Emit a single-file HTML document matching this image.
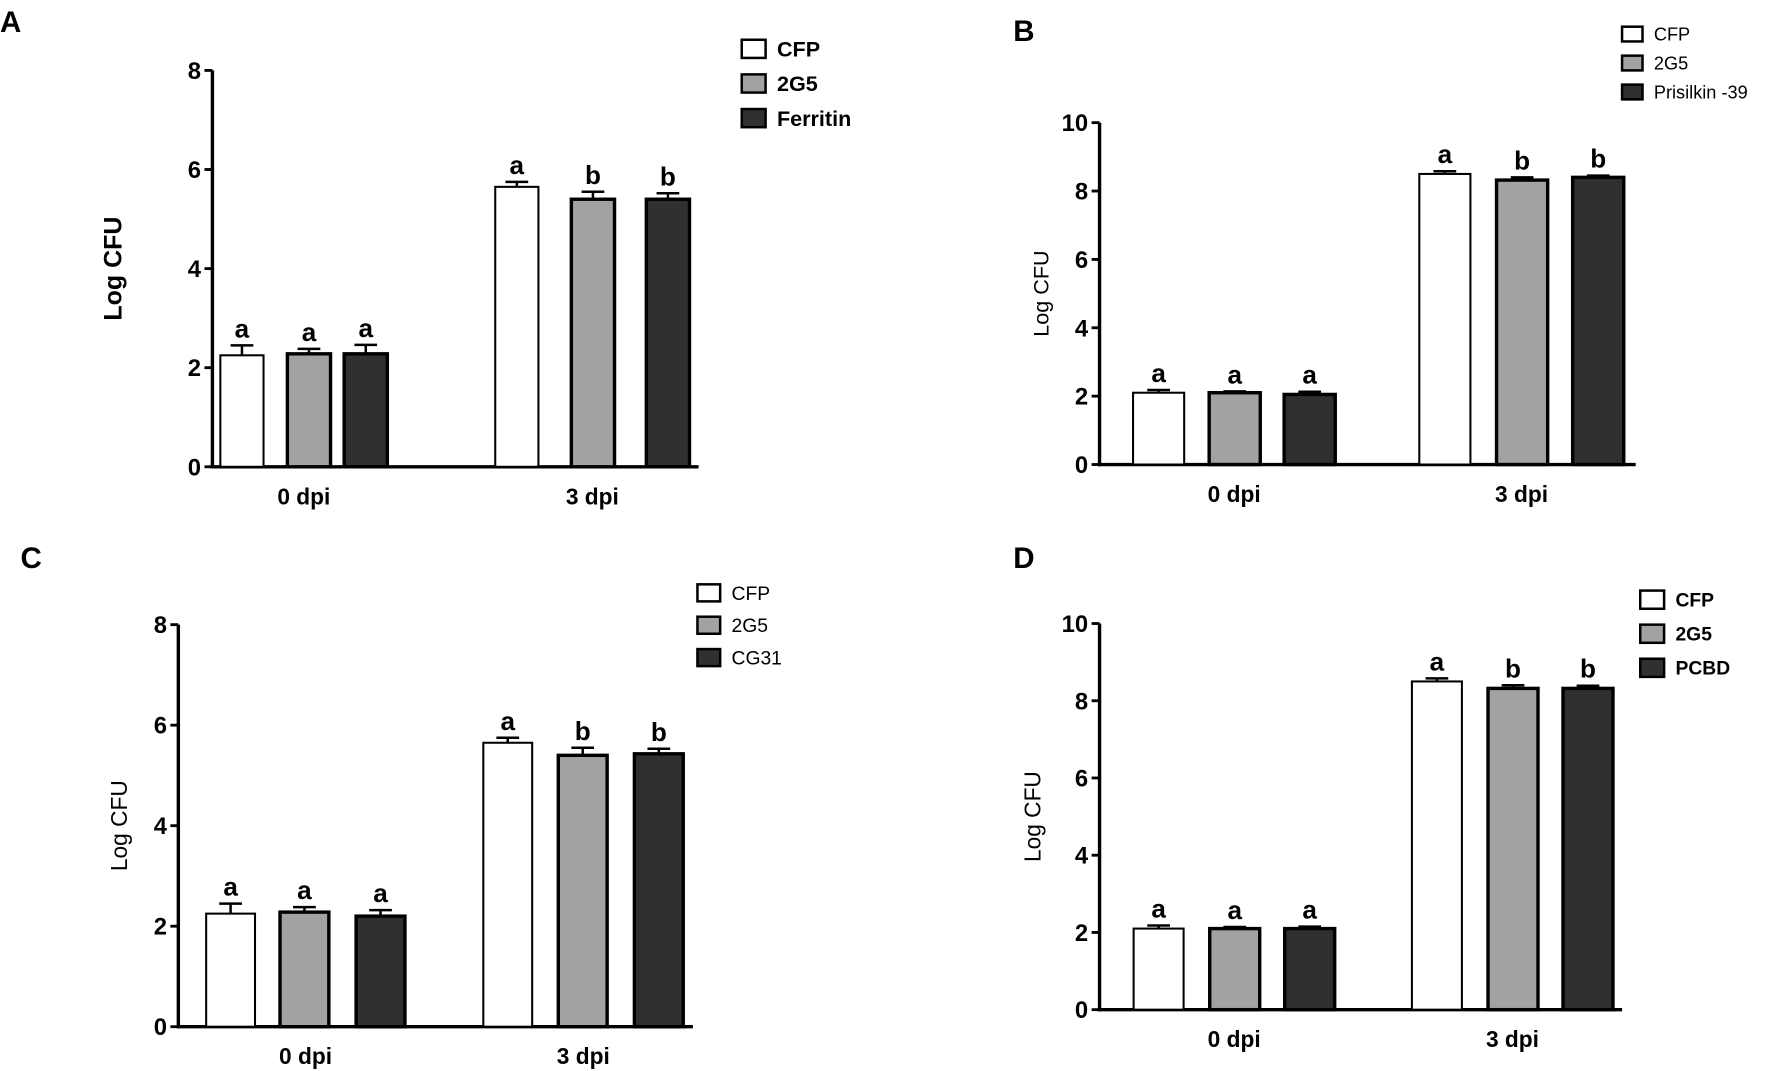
<!DOCTYPE html>
<html><head><meta charset="utf-8"><style>
html,body{margin:0;padding:0;background:#fff;}
svg{display:block;font-family:"Liberation Sans",Arial,sans-serif;}
</style></head><body>
<svg id="fig" width="1772" height="1071" viewBox="0 0 1560 943" preserveAspectRatio="none"></svg>
<script>
const groups = ["0 dpi","3 dpi"];
const seriesNames = {A:["CFP","2G5","Ferritin"],B:["CFP","2G5","Prisilkin -39"],C:["CFP","2G5","CG31"],D:["CFP","2G5","PCBD"]};
const valsA = [[2.25,2.28,2.28],[5.65,5.4,5.4]];
const errA  = [[0.2,0.1,0.18],[0.1,0.15,0.12]];
const letA  = [["a","a","a"],["a","b","b"]];
const valsB = [[2.1,2.1,2.05],[8.5,8.32,8.4]];
const errB  = [[0.08,0.04,0.08],[0.08,0.08,0.05]];
const letB  = [["a","a","a"],["a","b","b"]];
const valsC = [[2.25,2.28,2.2],[5.65,5.4,5.43]];
const errC  = [[0.2,0.1,0.12],[0.1,0.15,0.1]];
const letC  = [["a","a","a"],["a","b","b"]];
const valsD = [[2.1,2.1,2.1],[8.5,8.32,8.32]];
const errD  = [[0.08,0.04,0.05],[0.08,0.08,0.07]];
const letD  = [["a","a","a"],["a","b","b"]];
const ticksA = [0,2,4,6,8], ticksB=[0,2,4,6,8,10], ticksC=[0,2,4,6,8], ticksD=[0,2,4,6,8,10];
const fills = ["#ffffff","#a2a2a5","#303030"];

const svg = document.getElementById('fig');
const NS = "http://www.w3.org/2000/svg";
function mk(tag, at, parent){const e=document.createElementNS(NS,tag);for(const k in at)e.setAttribute(k,at[k]);(parent||svg).appendChild(e);return e;}

function panel(cfg){
  const g = mk('g',{});
  
  
  const ymax = cfg.ticks[cfg.ticks.length-1];
  const y = v => cfg.y0 - (cfg.y0-cfg.yTop)*v/ymax;
  const pl = mk('text',{x:cfg.lx,y:cfg.ly,'font-size':26,'font-weight':'bold'},g); pl.textContent=cfg.id;
  
  
  const ya = mk('line',{x1:cfg.ax,y1:cfg.yTop,x2:cfg.ax,y2:cfg.y0+1.5,stroke:'#000','stroke-width':3},g);
  
  
  const xa = mk('line',{x1:cfg.ax-1.5,y1:cfg.y0,x2:cfg.xEnd,y2:cfg.y0,stroke:'#000','stroke-width':3},g);
  
  
  cfg.ticks.forEach(t=>{
    mk('line',{x1:cfg.ax-7,y1:y(t),x2:cfg.ax,y2:y(t),stroke:'#000','stroke-width':2.5},g);
    const tl = mk('text',{x:cfg.ax-10,y:y(t)+7.5,'font-size':21,'font-weight':'bold','text-anchor':'end'},g);
    tl.textContent=t;
    
    
  });
  const yt = mk('text',{x:0,y:0,'font-size':cfg.titleSize,'font-weight':cfg.titleW,'text-anchor':'middle',transform:`translate(${cfg.ax-cfg.titleOff},${(cfg.y0+cfg.yTop)/2}) rotate(-90)`},g);
  yt.textContent='Log CFU';
  
  
  groups.forEach((gn,gi)=>{
    cfg.vals[gi].forEach((v,si)=>{
      const cx = cfg.centers[gi][si];
      const top = y(v), et = y(v+cfg.err[gi][si]);
      const el = mk('line',{x1:cx,y1:top,x2:cx,y2:et,stroke:'#000','stroke-width':2.2},g);
      
      
      mk('line',{x1:cx-10,y1:et,x2:cx+10,y2:et,stroke:'#000','stroke-width':2.2},g);
      const r = mk('rect',{x:cx-cfg.bw/2,y:top,width:cfg.bw,height:cfg.y0-top,fill:fills[si],stroke:'#000','stroke-width':si===0?1.8:3},g);
      
      
      const lt = mk('text',{x:cx,y:et-7,'font-size':23,'font-weight':'bold','text-anchor':'middle'},g);
      lt.textContent=cfg.letters[gi][si];
      
      
    });
    const c = cfg.centers[gi];
    const xl = mk('text',{x:(c[0]+c[2])/2,y:cfg.y0+33,'font-size':20,'font-weight':'bold','text-anchor':'middle'},g);
    xl.textContent=gn;
    
    
  });
  cfg.names.forEach((n,si)=>{
    const ly = cfg.legY + si*cfg.legGap;
    const lb = mk('rect',{x:cfg.legX,y:ly-cfg.legBox/2,width:cfg.legBox+5,height:cfg.legBox,fill:fills[si],stroke:'#000','stroke-width':2.2},g);
    
    
    const lt = mk('text',{x:cfg.legX+cfg.legBox+15,y:ly+cfg.legFont*0.36,'font-size':cfg.legFont,'font-weight':cfg.legW},g);
    lt.textContent=n;
    
    
  });
}

panel({id:'A',lx:0,ly:28,ax:187,yTop:62,y0:411,xEnd:615,ticks:ticksA,vals:valsA,err:errA,letters:letA,
  centers:[[213,272,322],[455,522,588]],bw:38,names:seriesNames.A,legX:653,legY:43,legGap:30.5,legBox:16,legFont:19,legW:'bold',titleSize:22,titleW:'bold',titleOff:80});
panel({id:'B',lx:892,ly:36,ax:968,yTop:108,y0:409,xEnd:1440,ticks:ticksB,vals:valsB,err:errB,letters:letB,
  centers:[[1020,1087,1153],[1272,1340,1407]],bw:45,names:seriesNames.B,legX:1428,legY:30,legGap:25.5,legBox:13,legFont:16,legW:'normal',titleSize:19,titleW:'normal',titleOff:45});
panel({id:'C',lx:18,ly:500,ax:157,yTop:550,y0:904,xEnd:610,ticks:ticksC,vals:valsC,err:errC,letters:letC,
  centers:[[203,268,335],[447,513,580]],bw:43,names:seriesNames.C,legX:614,legY:522,legGap:28.5,legBox:15,legFont:17,legW:'normal',titleSize:20,titleW:'normal',titleOff:45});
panel({id:'D',lx:892,ly:500,ax:968,yTop:549,y0:889,xEnd:1428,ticks:ticksD,vals:valsD,err:errD,letters:letD,
  centers:[[1020,1087,1153],[1265,1332,1398]],bw:44,names:seriesNames.D,legX:1444,legY:528,legGap:30,legBox:16,legFont:17,legW:'bold',titleSize:20,titleW:'normal',titleOff:52});
</script>
</body></html>
